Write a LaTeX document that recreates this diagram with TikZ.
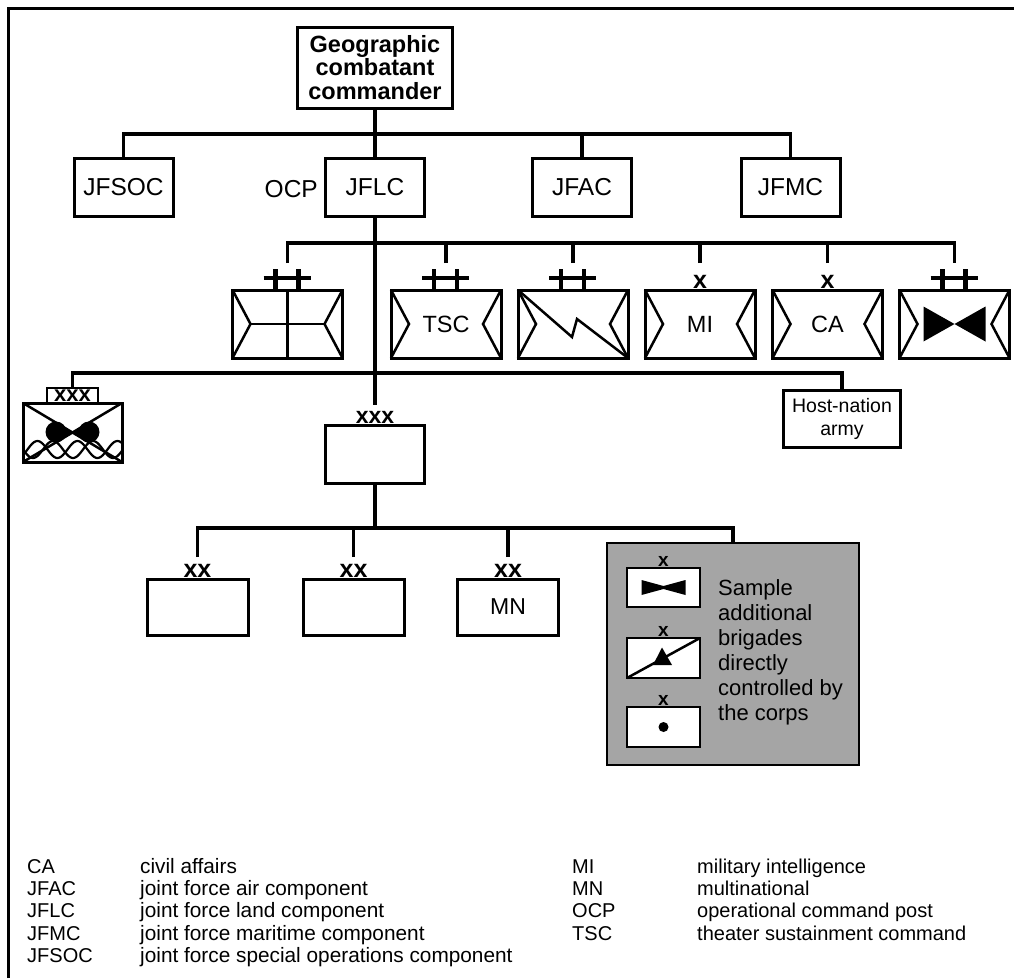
\documentclass[tikz,border=0pt]{standalone}
\usepackage{fontspec}
\setmainfont{Liberation Sans}
\usetikzlibrary{calc}
\definecolor{graybox}{RGB}{165,165,165}
\newcommand\drawchev[1]{%
  \draw[inner] (#1.north west) -- ($(#1.west)+(18,0)$) -- (#1.south west);
  \draw[inner] (#1.north east) -- ($(#1.east)+(-18,0)$) -- (#1.south east);}
\newcommand\drawpp[1]{%
  \draw[plusl] ($(#1.north)+(-12,-21)$) -- ($(#1.north)+(-12,0)$);
  \draw[plusl] ($(#1.north)+(-24,-12)$) -- ($(#1.north)+(-0.5,-12)$);
  \draw[plusl] ($(#1.north)+(11,-21)$) -- ($(#1.north)+(11,0)$);
  \draw[plusl] ($(#1.north)+(-0.5,-12)$) -- ($(#1.north)+(23,-12)$);}
\begin{document}
\begin{tikzpicture}[x=1pt,y=-1pt,
  box/.style={draw, line width=3pt, fill=white, inner sep=0pt, outer sep=0pt,
    minimum width=99pt, minimum height=58pt, align=center,
    font=\fontsize{24.5}{28}\selectfont},
  brig/.style={box, minimum width=110pt, minimum height=68pt, font=\fontsize{23.5}{27}\selectfont},
  small/.style={draw, line width=2.5pt, fill=white, inner sep=0pt, outer sep=0pt,
    minimum width=73pt, minimum height=40pt},
  conn/.style={line width=3.2pt},
  inner/.style={line width=2.5pt},
  plusl/.style={line width=4.5pt},
  ech/.style={inner sep=0pt, outer sep=0pt, font=\bfseries\fontsize{25}{25}\selectfont},
  echs/.style={inner sep=0pt, outer sep=0pt, font=\bfseries\fontsize{19}{19}\selectfont},
  lbl/.style={inner sep=0pt, font=\fontsize{24.5}{28}\selectfont},
  legl/.style={inner sep=0pt, font=\fontsize{20.8}{22}\selectfont},
  leg/.style={inner sep=0pt, font=\fontsize{20}{22}\selectfont}]
\useasboundingbox (0,0) rectangle (1014,978);
\fill[white] (0,0) rectangle (1014,978);
\draw[line width=3pt] (8.5,978) -- (8.5,8.5) -- (1014,8.5);

% top level
\node[box, minimum width=155pt, minimum height=81pt,
  font=\bfseries\fontsize{23.5}{23.5}\selectfont] (geo) at (375,67.5) {Geographic\\combatant\\commander};
\node[box] (jfsoc) at (123.5,187) {JFSOC};
\node[box] (jflc) at (375,187) {JFLC};
\node[box] (jfac) at (582,187) {JFAC};
\node[box] (jfmc) at (790.5,187) {JFMC};
\node[lbl, anchor=east] (ocp) at (318,189) {OCP};
\coordinate (bar1) at (375,134);
\draw[conn] (geo.south) -- (jflc.north);
\draw[conn] (jfsoc.north) |- (bar1) -| (jfmc.north);
\draw[conn] (jfac.north) -- (jfac.north |- bar1);

% brigade row
\node[brig] (b1) at (287.5,324) {};
\node[brig] (b2) at (446,324) {TSC};
\node[brig] (b3) at (573,324) {};
\node[brig] (b4) at (700,324) {MI};
\node[brig] (b5) at (827.5,324) {CA};
\node[brig] (b6) at (954.5,324) {};
\foreach \n in {b1,b2,b3,b4,b5,b6} {\drawchev{\n}}
\begin{scope}[shift={(b1.center)}]
  \draw[inner] (0,-34) -- (0,34);
  \draw[inner] (-37.5,0) -- (37.5,0);
\end{scope}
\begin{scope}[shift={(b3.center)}]
  \draw[inner, line join=miter] (-55,-34) -- (-1,13) -- (4,-5) -- (55,34);
\end{scope}
\begin{scope}[shift={(b6.center)}]
  \fill (-31,-17.5) -- (0,0) -- (-31,17.5) -- cycle;
  \fill (31,-17.5) -- (0,0) -- (31,17.5) -- cycle;
\end{scope}
\foreach \n in {b1,b2,b3,b6} {\drawpp{\n}}
\node[ech, anchor=base] (x4) at ($(b4.north)+(0,-1.5)$) {x};
\node[ech, anchor=base] (x5) at ($(b5.north)+(0,-1.5)$) {x};
\foreach \n/\d in {b1/d1,b2/d2,b3/d3,b4/d4,b5/d5,b6/d6} {\coordinate (\d) at ($(\n.north)+(0,-27)$);}
\coordinate (bar2) at (375,243);
\draw[conn] (d1) |- (bar2) -| (d6);
\foreach \d in {d2,d3,d4,d5} {\draw[conn] (\d) -- (\d |- bar2);}

% corps row
\node[draw, line width=2.5pt, fill=white, inner sep=0pt, outer sep=0pt,
  minimum width=51pt, minimum height=15pt, font=\bfseries\fontsize{22}{22}\selectfont] (mefx) at (72.5,395.5) {xxx};
\node[box, minimum height=59pt] (mef) at (72.5,432.5) {};
\begin{scope}
  \clip (23,403) rectangle (122,462);
  \begin{scope}[shift={(mef.center)}]
    \draw[inner] (-49.5,-29.5) -- (49.5,29.5);
    \draw[inner] (49.5,-29.5) -- (-49.5,29.5);
    \fill (-16.5,-0.5) circle[radius=10.5pt];
    \fill (16.5,-0.5) circle[radius=10.5pt];
    \fill (-17,-10.5) -- (0,0) -- (-17,10) -- cycle;
    \fill (17,-10.5) -- (0,0) -- (17,10) -- cycle;
    \draw[line width=2.2pt] plot[domain=-49.5:49.5, samples=90, smooth] (\x, {17+8.5*sin((\x+49.5)*9)});
    \draw[line width=2.2pt] plot[domain=-49.5:49.5, samples=90, smooth] (\x, {17+8.5*sin((\x+49.5)*9+140)});
  \end{scope}
\end{scope}
\draw[line width=3pt] (mef.north west) rectangle (mef.south east);
\node[box, minimum width=117pt, minimum height=57pt, font=\fontsize{19.5}{23}\selectfont] (hn) at (842,418.5) {Host-nation\\army};
\node[box] (corps) at (375,454) {};
\node[ech, anchor=base, font=\bfseries\fontsize{23}{23}\selectfont] (cx) at ($(corps.north)+(0,-1.5)$) {xxx};
\coordinate (dc) at ($(corps.north)+(0,-20)$);
\coordinate (bar3) at (375,373);
\draw[conn] (jflc.south) -- (dc);
\draw[conn] (mefx.north) |- (bar3) -| (hn.north);

% division row
\node[box, minimum width=101pt, minimum height=56pt] (dva) at (197.5,607) {};
\node[box, minimum width=101pt, minimum height=56pt] (dvb) at (353.5,607) {};
\node[box, minimum width=101pt, minimum height=56pt, font=\fontsize{23}{27}\selectfont] (dvc) at (508,607) {MN};
\foreach \n in {dva,dvb,dvc} {
  \node[ech, anchor=base] (x\n) at ($(\n.north)+(0,-1.5)$) {xx};
  \coordinate (dd\n) at ($(\n.north)+(0,-22)$);}
\node[draw, line width=2.5pt, fill=graybox, inner sep=0pt, outer sep=0pt,
  minimum width=252pt, minimum height=222pt] (gray) at (733,654) {};
\coordinate (bar4) at (375,528);
\draw[conn] (corps.south) -- (bar4);
\draw[conn] (dddva) |- (bar4) -| (gray.north);
\draw[conn] (dddvb) -- (dddvb |- bar4);
\draw[conn] (dddvc) -- (dddvc |- bar4);

% gray box content
\node[small, minimum height=39pt] (s1) at (663.5,587.5) {};
\node[small] (s2) at (663.5,658) {};
\node[small] (s3) at (663.5,727) {};
\foreach \n in {s1,s2,s3} {\node[echs, anchor=base] (x\n) at ($(\n.north)+(0,-1.2)$) {x};}
\begin{scope}[shift={(s1.center)}]
  \fill (-22,-7.5) -- (0,-1.5) -- (22,-7.5) -- (22,7.5) -- (0,1.5) -- (-22,7.5) -- cycle;
\end{scope}
\draw[inner] (s2.south west) -- (s2.north east);
\begin{scope}[shift={(s2.center)}]
  \fill (-1.5,-10.5) -- (-10.5,7) -- (8.5,7) -- cycle;
\end{scope}
\fill (s3.center) circle[radius=5pt];
\node[anchor=north west, align=left, inner sep=0pt, font=\fontsize{22}{25}\selectfont] (gtext) at (718,579)
  {Sample\\additional\\brigades\\directly\\controlled by\\the corps};

% legend
\foreach \y/\a/\d/\k in {873/CA/civil affairs/1, 895/JFAC/joint force air component/2,
  917/JFLC/joint force land component/3, 940/JFMC/joint force maritime component/4,
  962/JFSOC/joint force special operations component/5} {
  \node[leg, anchor=base west] (la\k) at (27,\y) {\a};
  \node[legl, anchor=base west] (ld\k) at (140,\y) {\d};}
\foreach \y/\a/\d/\k in {873/MI/military intelligence/1, 895/MN/multinational/2,
  917/OCP/operational command post/3, 940/TSC/theater sustainment command/4} {
  \node[leg, anchor=base west] (ra\k) at (572,\y) {\a};
  \node[leg, anchor=base west] (rd\k) at (697,\y) {\d};}
\end{tikzpicture}
\end{document}
